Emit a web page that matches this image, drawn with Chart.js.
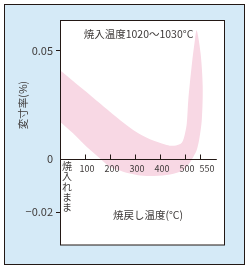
<!DOCTYPE html>
<html><head><meta charset="utf-8">
<script src="https://cdn.jsdelivr.net/npm/chart.js@4.4.1/dist/chart.umd.min.js"></script>
<style>html,body{margin:0;padding:0;background:#fff;}canvas{display:block;}</style>
</head><body>
<canvas id="c" width="250" height="272"></canvas>
<script>
// ---- data ----
const xTickValues = [100, 200, 300, 400, 500, 550];
const xTickLabels = ['100', '200', '300', '400', '500', '550'];
const yTickValues = [-0.02, 0, 0.05];
const yTickLabels = ['\u22120.02', '0', '0.05'];
// upper edge of the band (left -> spike tip)
const upperX = [0, 92, 159, 226, 292, 359, 426, 455, 486, 499, 505, 510, 521, 532, 538];
const upperY = [0.0410, 0.0321, 0.0256, 0.0191, 0.0132, 0.0089, 0.0063, 0.0059, 0.0073, 0.0117, 0.0163, 0.0271, 0.0426, 0.0550, 0.0595];
// lower edge of the band (left -> right side of spike, below the tip)
const lowerX = [0, 52, 106, 159, 199, 252, 306, 359, 426, 479, 505, 527, 538, 546, 555, 558, 551];
const lowerY = [0.0171, 0.0117, 0.0055, 0.0001, -0.0031, -0.0049, -0.0061, -0.0065, -0.0061, -0.0049, -0.0031, 0.0008, 0.0039, 0.0086, 0.0179, 0.0333, 0.0488];
const titleText = '焼入温度1020〜1030°C';
const xTitle = '焼戻し温度(°C)';
const yTitle = '変寸率(%)';
const asQuenched = '焼入れまま';
const axisEndValue = 605;

const INK = '#231815';
const TXT = '#3e3a39';
const FAM = '"Noto Sans CJK JP", "Noto Sans", sans-serif';

// ---- piecewise linear scale (the printed axes are not uniform) ----
class PiecewiseScale extends Chart.LinearScale {
  getPixelForValue(value) {
    const p = this.options.pieces;
    let total = 0; for (const q of p) total += q[2];
    let acc = 0;
    for (let i = 0; i < p.length; i++) {
      const a = p[i][0], b = p[i][1], l = p[i][2];
      if (value <= b || i === p.length - 1) {
        acc += (value - a) / (b - a) * l;
        return this.getPixelForDecimal(acc / total);
      }
      acc += l;
    }
  }
  getValueForPixel(pixel) {
    const p = this.options.pieces;
    let total = 0; for (const q of p) total += q[2];
    const d = this.getDecimalForPixel(pixel) * total;
    let acc = 0;
    for (let i = 0; i < p.length; i++) {
      const a = p[i][0], b = p[i][1], l = p[i][2];
      if (d <= acc + l || i === p.length - 1) return a + (d - acc) / l * (b - a);
      acc += l;
    }
  }
}
PiecewiseScale.id = 'piecewise';
PiecewiseScale.defaults = Chart.LinearScale.defaults;
Chart.register(PiecewiseScale);

const bandPoints = upperX.map((x, i) => ({x, y: upperY[i]}))
  .concat(lowerX.map((x, i) => ({x, y: lowerY[i]})).reverse());

const framePlugin = {
  id: 'frame',
  beforeDraw(chart) {
    const {ctx, chartArea: a} = chart;
    ctx.save();
    ctx.fillStyle = '#fff'; ctx.fillRect(0, 0, chart.width, chart.height);
    ctx.fillStyle = '#d5eaf7'; ctx.fillRect(4, 4, 240, 260);
    ctx.strokeStyle = INK; ctx.lineWidth = 1; ctx.strokeRect(4.5, 4.5, 240, 260);
    ctx.fillStyle = '#fff'; ctx.fillRect(a.left, a.top - 1, a.right - a.left, a.bottom - a.top + 1);
    ctx.restore();
  },
  afterDatasetsDraw(chart) {
    const {ctx, chartArea: a, scales} = chart;
    const x = scales.x, y = scales.y;
    ctx.save();
    const y0 = Math.round(y.getPixelForValue(0)) + 0.5;
    ctx.strokeStyle = INK;
    ctx.lineWidth = 1.2;
    ctx.beginPath();
    ctx.moveTo(x.getPixelForValue(0), y0);
    ctx.lineTo(x.getPixelForValue(axisEndValue), y0);
    ctx.stroke();
    ctx.lineWidth = 1;
    ctx.fillStyle = TXT;
    ctx.textAlign = 'center';
    ctx.textBaseline = 'middle';
    ctx.font = '9px ' + FAM;
    xTickValues.forEach((v, i) => {
      const px = Math.round(x.getPixelForValue(v)) + 0.5;
      ctx.beginPath(); ctx.moveTo(px, y0); ctx.lineTo(px, y0 - 5); ctx.stroke();
      // last label is nudged right in the print so it does not collide with "500"
      const shift = (i === xTickValues.length - 1) ? 6.5 : 1.5;
      ctx.fillText(xTickLabels[i], px + shift, y0 + 9);
    });
    ctx.strokeRect(a.left + 0.5, a.top - 0.5, a.right - a.left, a.bottom - a.top + 0.5);

    ctx.font = '10.5px ' + FAM;
    ctx.fillText(titleText, a.left + 78.5, a.top + 13.5);
    ctx.fillText(xTitle, a.left + 88, y0 + 56);
    ctx.font = '10px ' + FAM;
    const qx = x.getPixelForValue(0) + 7;
    [...asQuenched].forEach((ch, i) => ctx.fillText(ch, qx, y0 + 7 + i * 10.2));
    ctx.save();
    ctx.translate(23.5, 105);
    ctx.rotate(-Math.PI / 2);
    ctx.font = '10.5px ' + FAM;
    ctx.fillText(yTitle, 0, 0);
    ctx.restore();
    ctx.restore();
  }
};

new Chart(document.getElementById('c'), {
  type: 'line',
  data: {
    datasets: [{
      data: bandPoints,
      fill: 'shape',
      backgroundColor: '#f8d8e4',
      borderColor: 'rgba(0,0,0,0)',
      borderWidth: 0,
      pointRadius: 0,
      tension: 0.3
    }]
  },
  options: {
    responsive: false,
    devicePixelRatio: 1,
    animation: false,
    events: [],
    layout: {padding: {left: 0, top: 21, right: 26, bottom: 27}},
    plugins: {legend: {display: false}, tooltip: {enabled: false}},
    scales: {
      x: {
        type: 'piecewise',
        position: {y: 0},
        min: 0, max: 629,
        pieces: [[0, 500, 125.3], [500, 629, 38.7]],
        afterBuildTicks: s => { s.ticks = xTickValues.map(v => ({value: v})); },
        grid: {display: false, drawTicks: false},
        border: {display: false},
        ticks: {display: false, autoSkip: false, maxRotation: 0, minRotation: 0}
      },
      y: {
        type: 'piecewise',
        position: 'left',
        min: -0.0322, max: 0.0638,
        pieces: [[-0.0322, 0, 86.5], [0, 0.0638, 137.5]],
        afterFit: s => { s.width = 60; },
        afterBuildTicks: s => { s.ticks = yTickValues.map(v => ({value: v})); },
        grid: {
          display: true, drawOnChartArea: false, drawTicks: true, tickLength: 4,
          lineWidth: 1,
          tickColor: c => (c.tick && c.tick.value === 0) ? 'rgba(0,0,0,0)' : INK
        },
        border: {display: false},
        ticks: {
          autoSkip: false, padding: 3, color: TXT, font: {family: FAM, size: 11},
          callback: v => yTickLabels[yTickValues.indexOf(v)]
        }
      }
    }
  },
  plugins: [framePlugin]
});
</script>
</body></html>
